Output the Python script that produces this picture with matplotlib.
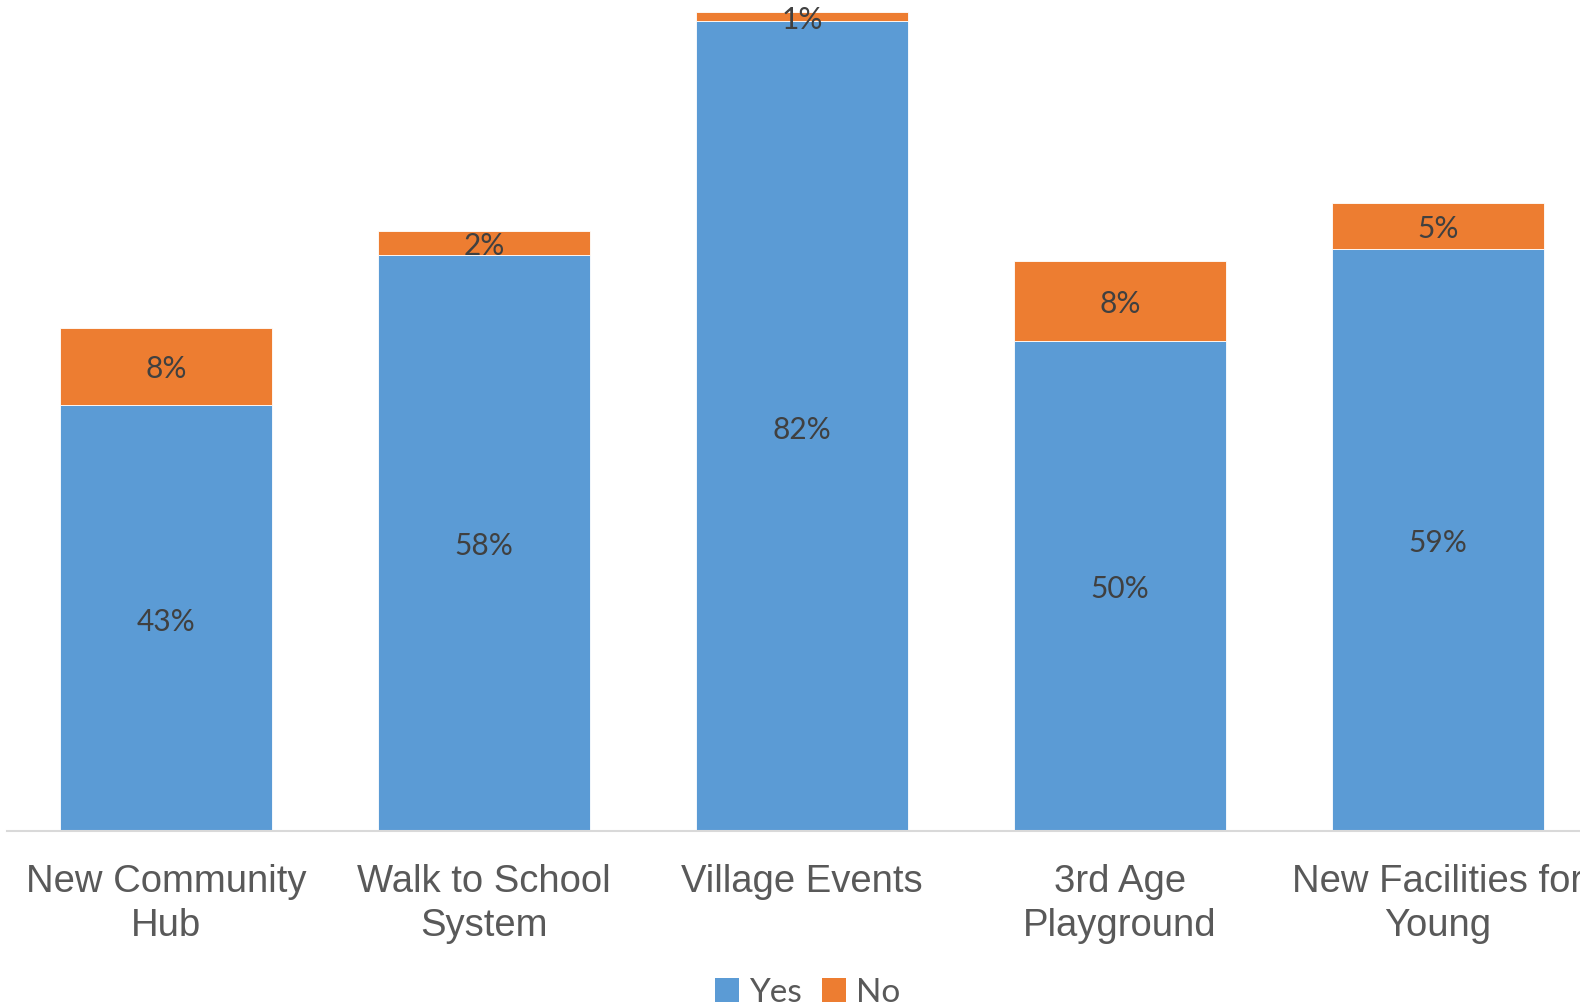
import matplotlib
matplotlib.use("Agg")
import matplotlib.pyplot as plt
from matplotlib.patches import Patch

categories = ["New Community\nHub", "Walk to School\nSystem", "Village Events",
              "3rd Age\nPlayground", "New Facilities for\nYoung"]
yes_values = [43.0, 58.2, 81.8, 49.5, 58.8]
no_values = [7.8, 2.4, 0.9, 8.1, 4.6]
yes_labels = ["43%", "58%", "82%", "50%", "59%"]
no_labels = ["8%", "2%", "1%", "8%", "5%"]

BLUE = "#5B9BD5"
ORANGE = "#ED7D31"
TXT = "#595959"
LBL = "#404040"

fig = plt.figure(figsize=(15.8, 10.05), dpi=100)
ax = fig.add_axes([0.0046, 0.1731, 1.006, 0.8269])

x = list(range(len(categories)))
w = 0.667
ax.bar(x, yes_values, width=w, color=BLUE, edgecolor="white", linewidth=0.6)
ax.bar(x, no_values, width=w, bottom=yes_values, color=ORANGE, edgecolor="white", linewidth=0.6)

for i in x:
    ax.annotate(yes_labels[i], (i, yes_values[i] / 2), xytext=(0, -2.5),
                textcoords="offset points", ha="center", va="center",
                fontsize=21.5, family="Lato", color=LBL)
    ax.annotate(no_labels[i], (i, yes_values[i] + no_values[i] / 2), xytext=(0, -2.0),
                textcoords="offset points", ha="center", va="center",
                fontsize=21.5, family="Lato", color=LBL)

ax.set_xlim(-0.5, 4.5)
ax.set_ylim(0, 83.94)
ax.set_yticks([])
ax.set_xticks(x)
ax.set_xticklabels(categories, fontsize=27.5, family="Liberation Sans", color=TXT,
                   linespacing=1.3)
ax.tick_params(axis="x", length=0, pad=23.5)
for s in ["top", "left", "right"]:
    ax.spines[s].set_visible(False)
ax.spines["bottom"].set_color("#D9D9D9")
ax.spines["bottom"].set_linewidth(1.5)

handles = [Patch(facecolor=BLUE, label="Yes"), Patch(facecolor=ORANGE, label="No")]
fig.legend(handles=handles, loc="center", bbox_to_anchor=(0.511, 0.012), ncol=2,
           frameon=False, prop={"family": "Lato", "size": 24},
           labelcolor=TXT, handlelength=0.72, handleheight=0.72,
           handletextpad=0.3, columnspacing=0.6)

fig.savefig("out.png", dpi=100)
